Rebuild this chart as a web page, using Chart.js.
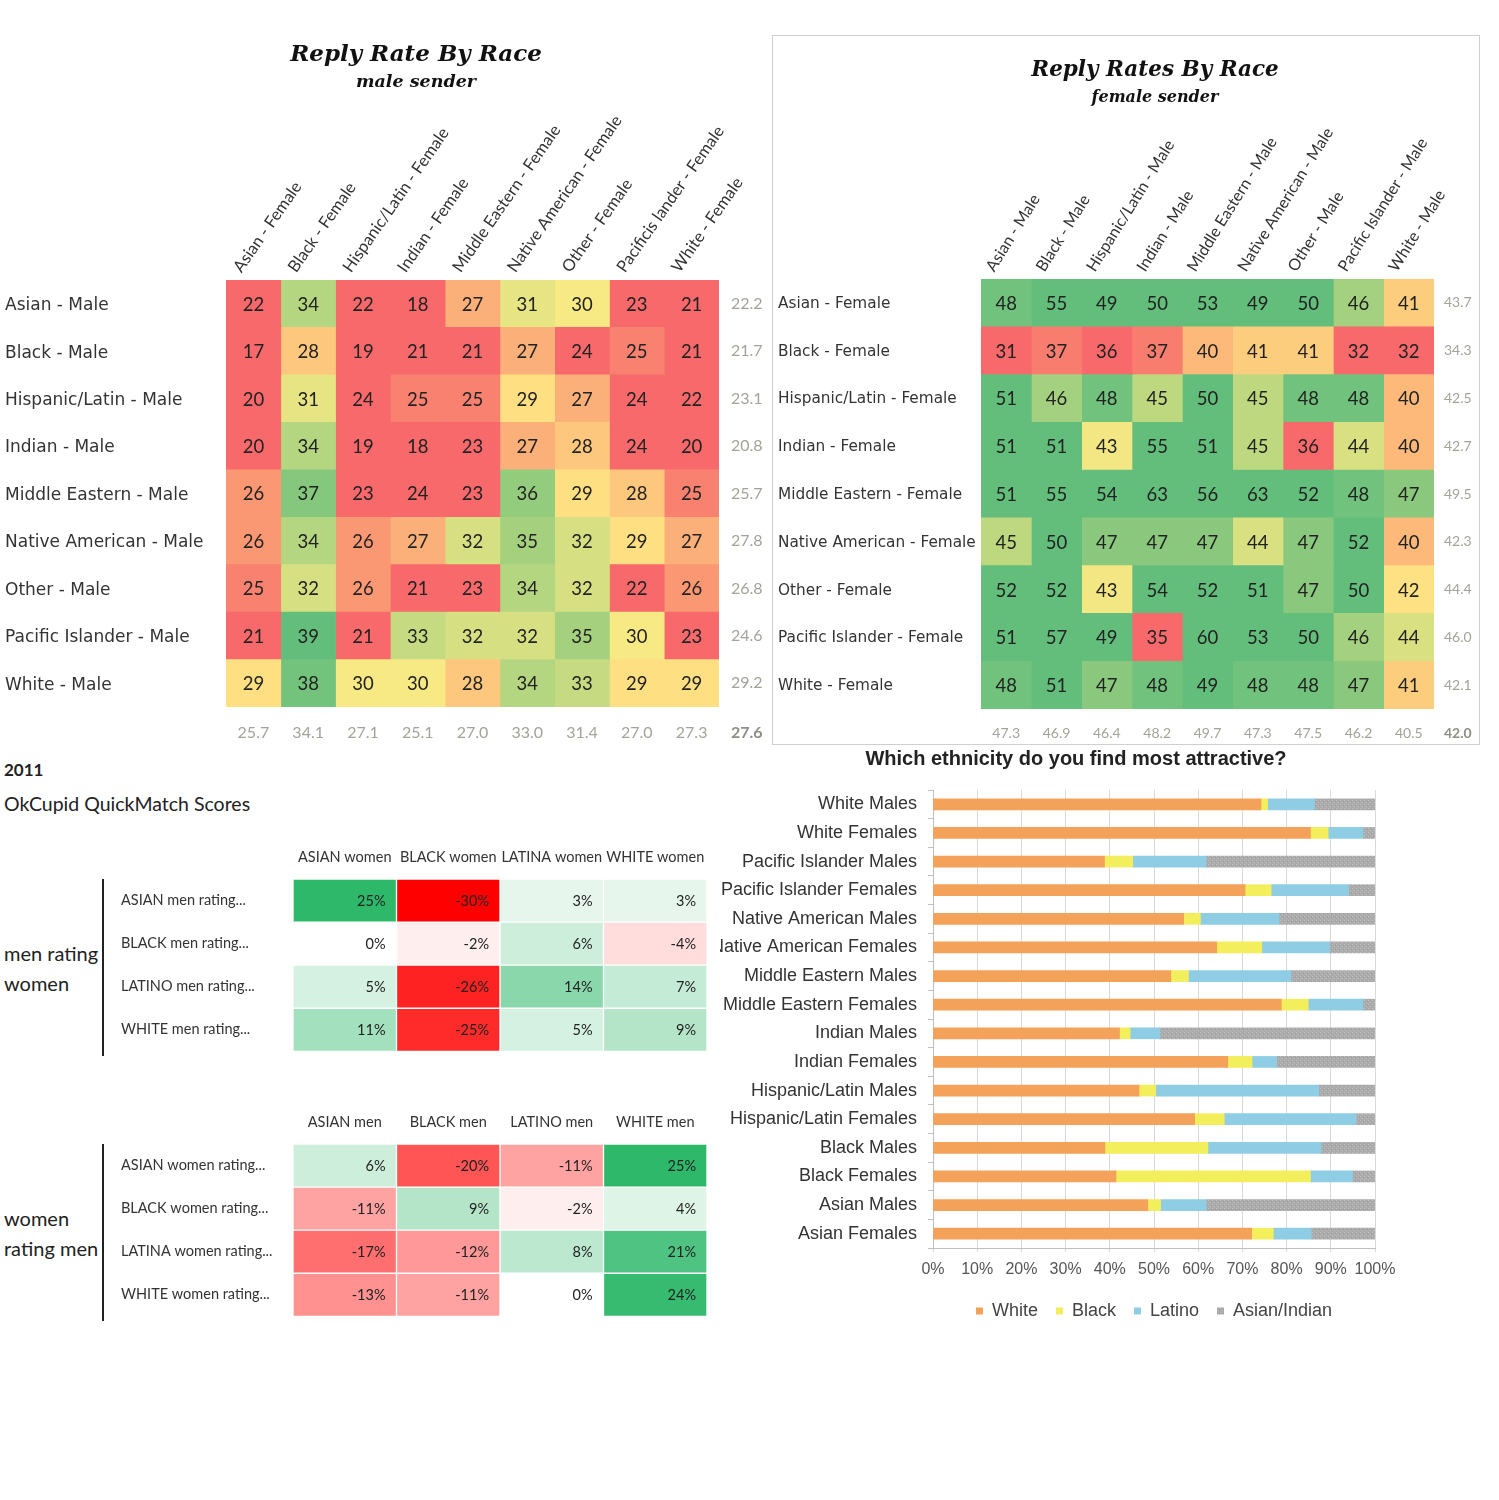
<!DOCTYPE html>
<html>
<head>
<meta charset="utf-8">
<title>Dating preferences by race</title>
<script src="https://cdn.jsdelivr.net/npm/chart.js@4.4.1/dist/chart.umd.min.js"></script>
<style>
  body { margin: 0; background: #fff; width: 1499px; height: 1500px; position: relative; overflow: hidden; font-family: Lato, "Liberation Sans", sans-serif; color: #222; }
  .abs { position: absolute; }
  canvas { display: block; }
  #femaleBox { left: 772px; top: 35px; width: 706px; height: 708px; border: 1px solid #cfcfcf; }
  .vline { position: absolute; left: 102px; width: 2px; height: 177px; background: #222; }
  .group { position: absolute; left: 4px; font-size: 20px; line-height: 30px; color: #222; }
  #attractTitle { left: 776px; width: 600px; top: 746px; text-align: center; font: bold 20px "Liberation Sans", Arial, sans-serif; line-height: 24px; color: #222; }
</style>
</head>
<body>

<canvas id="maleSender" class="abs" width="827" height="730" style="left:0;top:20px"></canvas>
<canvas id="attractive" class="abs" width="715" height="600" style="left:700px;top:740px"></canvas>
<div id="attractTitle" class="abs">Which ethnicity do you find most attractive?</div>
<div id="femaleBox" class="abs"><canvas id="femaleSender" width="759" height="708"></canvas></div>

<div class="abs" style="left:4px;top:760px;font-size:17px;line-height:20px;font-weight:bold">2011</div>
<div class="abs" style="left:4px;top:792px;font-size:19.5px;line-height:24px">OkCupid QuickMatch Scores</div>
<div class="group" style="top:938px">men rating<br>women</div>
<div class="vline" style="top:879px"></div>
<canvas id="menRating" class="abs" width="600" height="225" style="left:110px;top:835px"></canvas>
<div class="group" style="top:1203px">women<br>rating men</div>
<div class="vline" style="top:1144px"></div>
<canvas id="womenRating" class="abs" width="600" height="225" style="left:110px;top:1100px"></canvas>

<script>
"use strict";

/* ============================================================
   DATA
============================================================ */
const maleSenderRows = ["Asian - Male", "Black - Male", "Hispanic/Latin - Male", "Indian - Male",
  "Middle Eastern - Male", "Native American - Male", "Other - Male", "Pacific Islander - Male", "White - Male"];
const maleSenderCols = ["Asian - Female", "Black - Female", "Hispanic/Latin - Female", "Indian - Female",
  "Middle Eastern - Female", "Native American - Female", "Other - Female", "Pacificis lander - Female", "White - Female"];
const maleSenderRates = [
  [22, 34, 22, 18, 27, 31, 30, 23, 21],
  [17, 28, 19, 21, 21, 27, 24, 25, 21],
  [20, 31, 24, 25, 25, 29, 27, 24, 22],
  [20, 34, 19, 18, 23, 27, 28, 24, 20],
  [26, 37, 23, 24, 23, 36, 29, 28, 25],
  [26, 34, 26, 27, 32, 35, 32, 29, 27],
  [25, 32, 26, 21, 23, 34, 32, 22, 26],
  [21, 39, 21, 33, 32, 32, 35, 30, 23],
  [29, 38, 30, 30, 28, 34, 33, 29, 29]
];
const maleSenderRowAvg = ["22.2", "21.7", "23.1", "20.8", "25.7", "27.8", "26.8", "24.6", "29.2"];
const maleSenderColAvg = ["25.7", "34.1", "27.1", "25.1", "27.0", "33.0", "31.4", "27.0", "27.3"];
const maleSenderTotal = "27.6";

const femaleSenderRows = ["Asian - Female", "Black - Female", "Hispanic/Latin - Female", "Indian - Female",
  "Middle Eastern - Female", "Native American - Female", "Other - Female", "Pacific Islander - Female", "White - Female"];
const femaleSenderCols = ["Asian - Male", "Black - Male", "Hispanic/Latin - Male", "Indian - Male",
  "Middle Eastern - Male", "Native American - Male", "Other - Male", "Pacific Islander - Male", "White - Male"];
const femaleSenderRates = [
  [48, 55, 49, 50, 53, 49, 50, 46, 41],
  [31, 37, 36, 37, 40, 41, 41, 32, 32],
  [51, 46, 48, 45, 50, 45, 48, 48, 40],
  [51, 51, 43, 55, 51, 45, 36, 44, 40],
  [51, 55, 54, 63, 56, 63, 52, 48, 47],
  [45, 50, 47, 47, 47, 44, 47, 52, 40],
  [52, 52, 43, 54, 52, 51, 47, 50, 42],
  [51, 57, 49, 35, 60, 53, 50, 46, 44],
  [48, 51, 47, 48, 49, 48, 48, 47, 41]
];
const femaleSenderRowAvg = ["43.7", "34.3", "42.5", "42.7", "49.5", "42.3", "44.4", "46.0", "42.1"];
const femaleSenderColAvg = ["47.3", "46.9", "46.4", "48.2", "49.7", "47.3", "47.5", "46.2", "40.5"];
const femaleSenderTotal = "42.0";

const menRatingRows = ["ASIAN men rating...", "BLACK men rating...", "LATINO men rating...", "WHITE men rating..."];
const menRatingCols = ["ASIAN women", "BLACK women", "LATINA women", "WHITE women"];
const menRatingScores = [
  [25, -30, 3, 3],
  [0, -2, 6, -4],
  [5, -26, 14, 7],
  [11, -25, 5, 9]
];

const womenRatingRows = ["ASIAN women rating...", "BLACK women rating...", "LATINA women rating...", "WHITE women rating..."];
const womenRatingCols = ["ASIAN men", "BLACK men", "LATINO men", "WHITE men"];
const womenRatingScores = [
  [6, -20, -11, 25],
  [-11, 9, -2, 4],
  [-17, -12, 8, 21],
  [-13, -11, 0, 24]
];

const attractGroups = ["White Males", "White Females", "Pacific Islander Males", "Pacific Islander Females",
  "Native American Males", "Native American Females", "Middle Eastern Males", "Middle Eastern Females",
  "Indian Males", "Indian Females", "Hispanic/Latin Males", "Hispanic/Latin Females",
  "Black Males", "Black Females", "Asian Males", "Asian Females"];
const attractWhite = [74.2, 85.4, 38.8, 70.6, 56.7, 64.2, 53.8, 78.8, 42.2, 66.7, 46.6, 59.2, 38.9, 41.4, 48.6, 72.1];
const attractBlack = [1.5, 4.0, 6.4, 5.9, 3.8, 10.2, 4.0, 6.1, 2.4, 5.5, 3.8, 6.7, 23.3, 44.0, 2.9, 4.9];
const attractLatino = [10.6, 7.9, 16.6, 17.5, 17.8, 15.3, 23.2, 12.4, 6.7, 5.5, 36.9, 29.8, 25.6, 9.5, 10.3, 8.6];
const attractAsianIndian = [13.7, 2.7, 38.2, 6.0, 21.7, 10.3, 19.0, 2.7, 48.7, 22.3, 12.7, 4.3, 12.2, 5.1, 38.2, 14.4];

/* ============================================================
   COLOUR HELPERS
============================================================ */
const RED = [248, 105, 107];
const YELLOW = [255, 235, 132];
const GREEN = [99, 190, 123];

function mix(a, b, t) {
  t = Math.max(0, Math.min(1, t));
  const c = a.map((v, i) => Math.round(v + (b[i] - v) * t));
  return `rgb(${c[0]},${c[1]},${c[2]})`;
}

// excel style red - yellow - green scale
function threeColor(lo, mid, hi) {
  return v => v <= mid ? mix(RED, YELLOW, (v - lo) / (mid - lo)) : mix(YELLOW, GREEN, (v - mid) / (hi - mid));
}

function quickMatchColor(v) {
  if (v < 0) return mix([255, 255, 255], [255, 0, 0], -v / 30);
  return mix([255, 255, 255], [46, 184, 106], v / 25);
}

// speckled grey like the old excel texture fill
function speckledGrey() {
  const c = document.createElement('canvas');
  c.width = 4; c.height = 4;
  const g = c.getContext('2d');
  g.fillStyle = '#ababab';
  g.fillRect(0, 0, 4, 4);
  g.fillStyle = '#c2c2c2';
  g.fillRect(0, 0, 1, 1);
  g.fillRect(2, 2, 1, 1);
  g.fillStyle = '#9c9c9c';
  g.fillRect(3, 1, 1, 1);
  return g.createPattern(c, 'repeat');
}

/* ============================================================
   CELL TEXT PLUGIN
============================================================ */
const cellTextPlugin = {
  id: 'cellText',
  afterDatasetsDraw(chart, args, opts) {
    const ctx = chart.ctx;
    ctx.save();
    ctx.font = opts.font;
    ctx.fillStyle = opts.color;
    ctx.textBaseline = 'middle';
    ctx.textAlign = opts.inset ? 'right' : 'center';
    chart.data.datasets.forEach((ds, j) => {
      chart.getDatasetMeta(j).data.forEach((bar, i) => {
        const x = opts.inset ? Math.max(bar.x, bar.base) - opts.inset : (bar.x + bar.base) / 2;
        ctx.fillText(opts.format(opts.values[i][j]), x, bar.y + 1);
      });
    });
    // overall average sits where the row and column averages cross
    if (opts.total) {
      const y2 = chart.scales.y2, x3 = chart.scales.x3;
      ctx.font = `bold ${opts.avgSize}px Lato`;
      ctx.fillStyle = '#8e8e86';
      ctx.textAlign = 'left';
      ctx.fillText(opts.total, y2.left + y2.options.ticks.padding, x3.top + x3.options.ticks.padding + opts.avgSize * 0.6);
    }
    ctx.restore();
  }
};

/* ============================================================
   HEATMAP BUILDER (stacked unit bars, one dataset per column)
============================================================ */
function noGrid() {
  return { display: false, drawTicks: false };
}

function fixHeight(h) {
  return s => { s.height = h; s.paddingLeft = 0; s.paddingRight = 0; };
}

function buildHeatmap(id, p) {
  const avgFont = { family: 'Lato', size: p.avgSize };
  const scales = {
    x: { stacked: true, display: false, min: 0, max: p.cols.length },
    y: {
      stacked: true,
      grid: noGrid(), border: { display: false },
      ticks: { crossAlign: 'far', padding: 0, labelOffset: p.rowShift || 0, autoSkip: false, font: p.rowFont, color: '#333' },
      afterFit: s => { s.width = p.yWidth; }
    },
    x2: {
      type: 'category', labels: p.cols, position: 'top', offset: true,
      grid: noGrid(), border: { display: false },
      ticks: { autoSkip: false, minRotation: p.rotation, maxRotation: p.rotation, padding: p.headPad, font: p.headFont, color: '#333' },
      afterFit: fixHeight(p.topHeight)
    }
  };
  if (p.rowAvg) {
    scales.y2 = {
      type: 'category', labels: p.rowAvg, position: 'right', offset: true,
      grid: noGrid(), border: { display: false },
      ticks: { padding: p.avgPad, autoSkip: false, font: avgFont, color: '#a3a39a' },
      afterFit: s => { s.width = p.rightWidth; }
    };
    scales.x3 = {
      type: 'category', labels: p.colAvg, position: 'bottom', offset: true,
      grid: noGrid(), border: { display: false },
      ticks: { padding: p.colAvgPad, autoSkip: false, maxRotation: 0, font: avgFont, color: '#a3a39a' },
      afterFit: fixHeight(p.bottomHeight)
    };
  }

  return new Chart(document.getElementById(id), {
    type: 'bar',
    data: {
      labels: p.rows,
      datasets: p.cols.map((col, j) => ({
        label: col,
        data: p.rows.map(() => 1),
        backgroundColor: p.values.map(row => p.color(row[j])),
        borderWidth: p.gap,
        borderColor: '#fff',
        borderSkipped: false,
        barPercentage: 1,
        categoryPercentage: 1
      }))
    },
    options: {
      indexAxis: 'y',
      responsive: false,
      animation: false,
      layout: { padding: p.padding },
      plugins: {
        legend: { display: false },
        tooltip: { enabled: false },
        title: p.title ? {
          display: true, text: p.title, color: '#111',
          font: { family: 'DejaVu Serif', size: p.titleSize, style: 'italic', weight: 'bold' },
          padding: { top: p.titleTop, bottom: 0 }
        } : { display: false },
        subtitle: p.subtitle ? {
          display: true, text: p.subtitle, color: '#111',
          font: { family: 'DejaVu Serif', size: p.subSize, style: 'italic', weight: 'bold' },
          padding: { top: p.subTop, bottom: 0 }
        } : { display: false },
        cellText: { values: p.values, format: p.format, font: p.cellFont, color: '#222', inset: p.inset, total: p.total, avgSize: p.avgSize }
      },
      scales: scales
    },
    plugins: [cellTextPlugin]
  });
}

/* ============================================================
   REPLY RATE HEATMAPS
============================================================ */
buildHeatmap('maleSender', {
  rows: maleSenderRows, cols: maleSenderCols, values: maleSenderRates,
  rowAvg: maleSenderRowAvg, colAvg: maleSenderColAvg, total: maleSenderTotal,
  color: threeColor(24, 29.5, 39),
  title: 'Reply Rate By Race', subtitle: 'male sender',
  titleSize: 23, titleTop: 21, subSize: 17.5, subTop: 3.7,
  padding: { left: 5, right: 0, top: 0, bottom: 0 },
  yWidth: 221, rightWidth: 108, topHeight: 186.7, bottomHeight: 43,
  rotation: 55, headPad: 4, avgPad: 12, avgSize: 16, colAvgPad: 16.4, gap: 0,
  rowFont: { family: 'DejaVu Sans', size: 17 }, rowShift: 2,
  headFont: { family: 'Lato', size: 16.5 },
  cellFont: '18.5px Lato', format: v => String(v)
});

buildHeatmap('femaleSender', {
  rows: femaleSenderRows, cols: femaleSenderCols, values: femaleSenderRates,
  rowAvg: femaleSenderRowAvg, colAvg: femaleSenderColAvg, total: femaleSenderTotal,
  color: threeColor(36, 42.5, 48.5),
  title: 'Reply Rates By Race', subtitle: 'female sender',
  titleSize: 21.5, titleTop: 21.1, subSize: 16, subTop: 5.5,
  padding: { left: 5, right: 0, top: 0, bottom: 0 },
  yWidth: 203, rightWidth: 98, topHeight: 171.4, bottomHeight: 35,
  rotation: 58, headPad: 4, avgPad: 10, avgSize: 14, colAvgPad: 15.6, gap: 0,
  rowFont: { family: 'DejaVu Sans', size: 15.3 }, rowShift: 1,
  headFont: { family: 'Lato', size: 16 },
  cellFont: '18.5px Lato', format: v => String(v)
});

/* ============================================================
   QUICKMATCH TABLES
============================================================ */
const quickMatchCommon = {
  color: quickMatchColor,
  padding: { left: 11, right: 3, top: 0, bottom: 4 },
  yWidth: 172, topHeight: 44, rotation: 0, headPad: 13.3, gap: 1,
  rowFont: { family: 'Lato', size: 14.5 },
  headFont: { family: 'Lato', size: 14.5 },
  cellFont: '14.5px Lato', inset: 11, format: v => v + '%'
};

buildHeatmap('menRating', Object.assign({
  rows: menRatingRows, cols: menRatingCols, values: menRatingScores
}, quickMatchCommon));

buildHeatmap('womenRating', Object.assign({
  rows: womenRatingRows, cols: womenRatingCols, values: womenRatingScores
}, quickMatchCommon));

/* ============================================================
   MOST ATTRACTIVE ETHNICITY (100% stacked bars)
============================================================ */
new Chart(document.getElementById('attractive'), {
  type: 'bar',
  data: {
    labels: attractGroups,
    datasets: [
      { label: 'White', data: attractWhite, backgroundColor: '#f4a15a' },
      { label: 'Black', data: attractBlack, backgroundColor: '#f2ee5c' },
      { label: 'Latino', data: attractLatino, backgroundColor: '#8ecde4' },
      { label: 'Asian/Indian', data: attractAsianIndian, backgroundColor: speckledGrey() }
    ]
  },
  options: {
    indexAxis: 'y',
    responsive: false,
    animation: false,
    datasets: { bar: { barThickness: 11, borderWidth: 0 } },
    layout: { padding: { left: 20, right: 40, top: 50, bottom: 10 } },
    plugins: {
      tooltip: { enabled: false },
      legend: {
        position: 'bottom', fullSize: false,
        labels: { boxWidth: 7, boxHeight: 7, padding: 18, color: '#444', font: { family: 'Liberation Sans', size: 18 } }
      }
    },
    scales: {
      x: {
        stacked: true, min: 0, max: 100,
        ticks: { stepSize: 10, maxRotation: 0, callback: v => v + '%', padding: 8.4, color: '#555', font: { family: 'Liberation Sans', size: 16 } },
        grid: { color: '#d9d9d9', tickLength: 4 },
        border: { color: '#bfbfbf' },
        afterFit: fixHeight(36)
      },
      y: {
        stacked: true,
        ticks: { padding: 11, autoSkip: false, color: '#333', font: { family: 'Liberation Sans', size: 18 } },
        grid: { drawOnChartArea: false, tickLength: 5, color: '#bfbfbf' },
        border: { color: '#bfbfbf' },
        afterFit: s => { s.width = 213; }
      }
    }
  }
});
</script>
</body>
</html>
